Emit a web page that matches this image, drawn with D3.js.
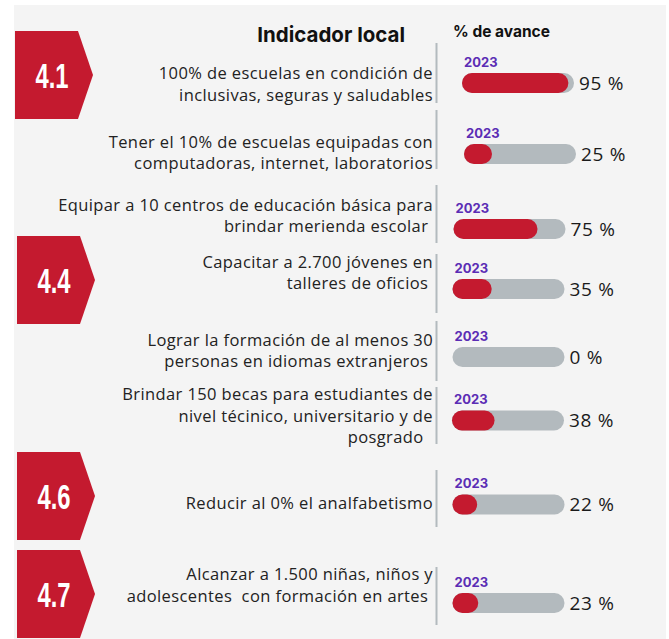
<!DOCTYPE html>
<html>
<head>
<meta charset="utf-8">
<script src="https://cdn.jsdelivr.net/npm/d3@7"></script>
<style>
  html, body { margin: 0; padding: 0; background: #fff; }
  svg { display: block; }
  text { white-space: pre; }
</style>
</head>
<body>
<div id="chart"></div>
<script>
// ---------------- DATA ----------------
const goals = ["4.1", "4.4", "4.6", "4.7"];
const rowGoal = ["4.1", "4.1", "4.1", "4.4", "4.4", "4.4", "4.6", "4.7"];
const indicators = [
  ["100% de escuelas en condición de", "inclusivas, seguras y saludables"],
  ["Tener el 10% de escuelas equipadas con", "computadoras, internet, laboratorios"],
  ["Equipar a 10 centros de educación básica para", "brindar merienda escolar "],
  ["Capacitar a 2.700 jóvenes en", "talleres de oficios "],
  ["Lograr la formación de al menos 30", "personas en idiomas extranjeros "],
  ["Brindar 150 becas para estudiantes de", "nivel técinico, universitario y de", "posgrado  "],
  ["Reducir al 0% el analfabetismo"],
  ["Alcanzar a 1.500 niñas, niños y", "adolescentes  con formación en artes "]
];
const years = ["2023", "2023", "2023", "2023", "2023", "2023", "2023", "2023"];
const progress = [95, 25, 75, 35, 0, 38, 22, 23];
const headerLeft = "Indicador local";
const headerRight = "% de avance";

// ---------------- LAYOUT ----------------
const width = 669, height = 639;
const rowTextY = [84, 152.5, 215.5, 272.5, 350.5, 416, 503, 585];
const rowBarY = [83, 154, 229, 289, 357, 420.5, 504.5, 603];
const rowBarX = [462, 464, 453.5, 452.5, 452.5, 452, 452.5, 452.5];
const rowSep = [[43, 103], [110, 169], [185, 243], [254, 313], [321, 381], [387, 444], [470, 527], [567, 625]];
const badgeTop = { "4.1": 31, "4.4": 236, "4.6": 452, "4.7": 550 };
const badgeX = { "4.1": 15, "4.4": 17, "4.6": 17, "4.7": 17 };

const barW = 112, barH = 20, lineH = 21.5;
const textRight = 433, sepX = 436.5;

const RED = "#c41a2f", GREY = "#b3babe", PURPLE = "#5b2db5", INK = "#222";
const bodyFont = "'Open Sans', 'Noto Sans', sans-serif";

const svg = d3.select("#chart").append("svg")
  .attr("width", width)
  .attr("height", height);

// panel
svg.append("rect")
  .attr("x", 14).attr("y", 5)
  .attr("width", 652).attr("height", height - 5)
  .attr("fill", "#f4f4f4");

// ---------------- SCALES ----------------
const x = d3.scaleLinear().domain([0, 100]).range([0, barW]);

// ---------------- BADGES ----------------
const badges = svg.append("g").selectAll("g")
  .data(goals)
  .join("g")
  .attr("transform", d => `translate(${badgeX[d]},${badgeTop[d]})`);

badges.append("path")
  .attr("d", "M0,0 H63 L78,44 L63,88 H0 Z")
  .attr("fill", RED);

// condensed look: squeeze a bold face horizontally
badges.append("text")
  .attr("transform", "translate(37,44) scale(0.68,1)")
  .attr("dy", "0.36em")
  .attr("text-anchor", "middle")
  .attr("fill", "#fff")
  .style("font-family", "'Liberation Sans', Arial, sans-serif")
  .style("font-weight", 700)
  .style("font-size", "35px")
  .text(d => d);

// ---------------- HEADERS ----------------
svg.append("text")
  .attr("x", 405).attr("y", 35).attr("dy", "0.35em")
  .attr("text-anchor", "end")
  .style("font-family", "Inter, sans-serif")
  .style("font-weight", 700)
  .style("font-size", "20.5px")
  .attr("fill", "#111")
  .text(headerLeft);

svg.append("text")
  .attr("x", 453).attr("y", 32).attr("dy", "0.35em")
  .style("font-family", "Inter, sans-serif")
  .style("font-weight", 700)
  .style("font-size", "15.5px")
  .attr("fill", "#111")
  .text(headerRight);

// ---------------- ROWS ----------------
const rows = svg.append("g").selectAll("g")
  .data(indicators.map((lines, i) => ({ lines, i, goal: rowGoal[i], year: years[i], v: progress[i] })))
  .join("g");

// description text
rows.append("text")
  .attr("text-anchor", "end")
  .style("font-family", bodyFont)
  .style("font-size", "16.5px")
  .style("letter-spacing", "0.4px")
  .attr("fill", INK)
  .each(function (d) {
    const t = d3.select(this);
    const n = d.lines.length;
    d.lines.forEach((line, k) => {
      t.append("tspan")
        .attr("x", textRight)
        .attr("y", rowTextY[d.i] + (k - (n - 1) / 2) * lineH)
        .attr("dy", "0.35em")
        .text(line);
    });
  });

// separators
rows.append("line")
  .attr("x1", sepX).attr("x2", sepX)
  .attr("y1", d => rowSep[d.i][0])
  .attr("y2", d => rowSep[d.i][1])
  .attr("stroke", GREY)
  .attr("stroke-width", 2);

// year label
rows.append("text")
  .attr("x", d => rowBarX[d.i] + 2)
  .attr("y", d => rowBarY[d.i] - 21)
  .attr("dy", "0.35em")
  .style("font-family", "Inter, sans-serif")
  .style("font-weight", 700)
  .style("font-size", "13px")
  .attr("fill", PURPLE)
  .text(d => d.year);

// background bar
rows.append("rect")
  .attr("x", d => rowBarX[d.i])
  .attr("y", d => rowBarY[d.i] - barH / 2)
  .attr("width", x(100))
  .attr("height", barH)
  .attr("rx", barH / 2)
  .attr("fill", GREY);

// progress bar
rows.filter(d => d.v > 0).append("rect")
  .attr("x", d => rowBarX[d.i])
  .attr("y", d => rowBarY[d.i] - barH / 2)
  .attr("width", d => Math.max(x(d.v), barH))
  .attr("height", barH)
  .attr("rx", barH / 2)
  .attr("fill", RED);

// value label
rows.append("text")
  .attr("x", d => rowBarX[d.i] + x(100) + 5)
  .attr("y", d => rowBarY[d.i])
  .attr("dy", "0.36em")
  .style("font-family", bodyFont)
  .style("font-size", "19px")
  .style("letter-spacing", "0.7px")
  .attr("fill", "#1a1a1a")
  .text(d => `${d.v} %`);
</script>
</body>
</html>
